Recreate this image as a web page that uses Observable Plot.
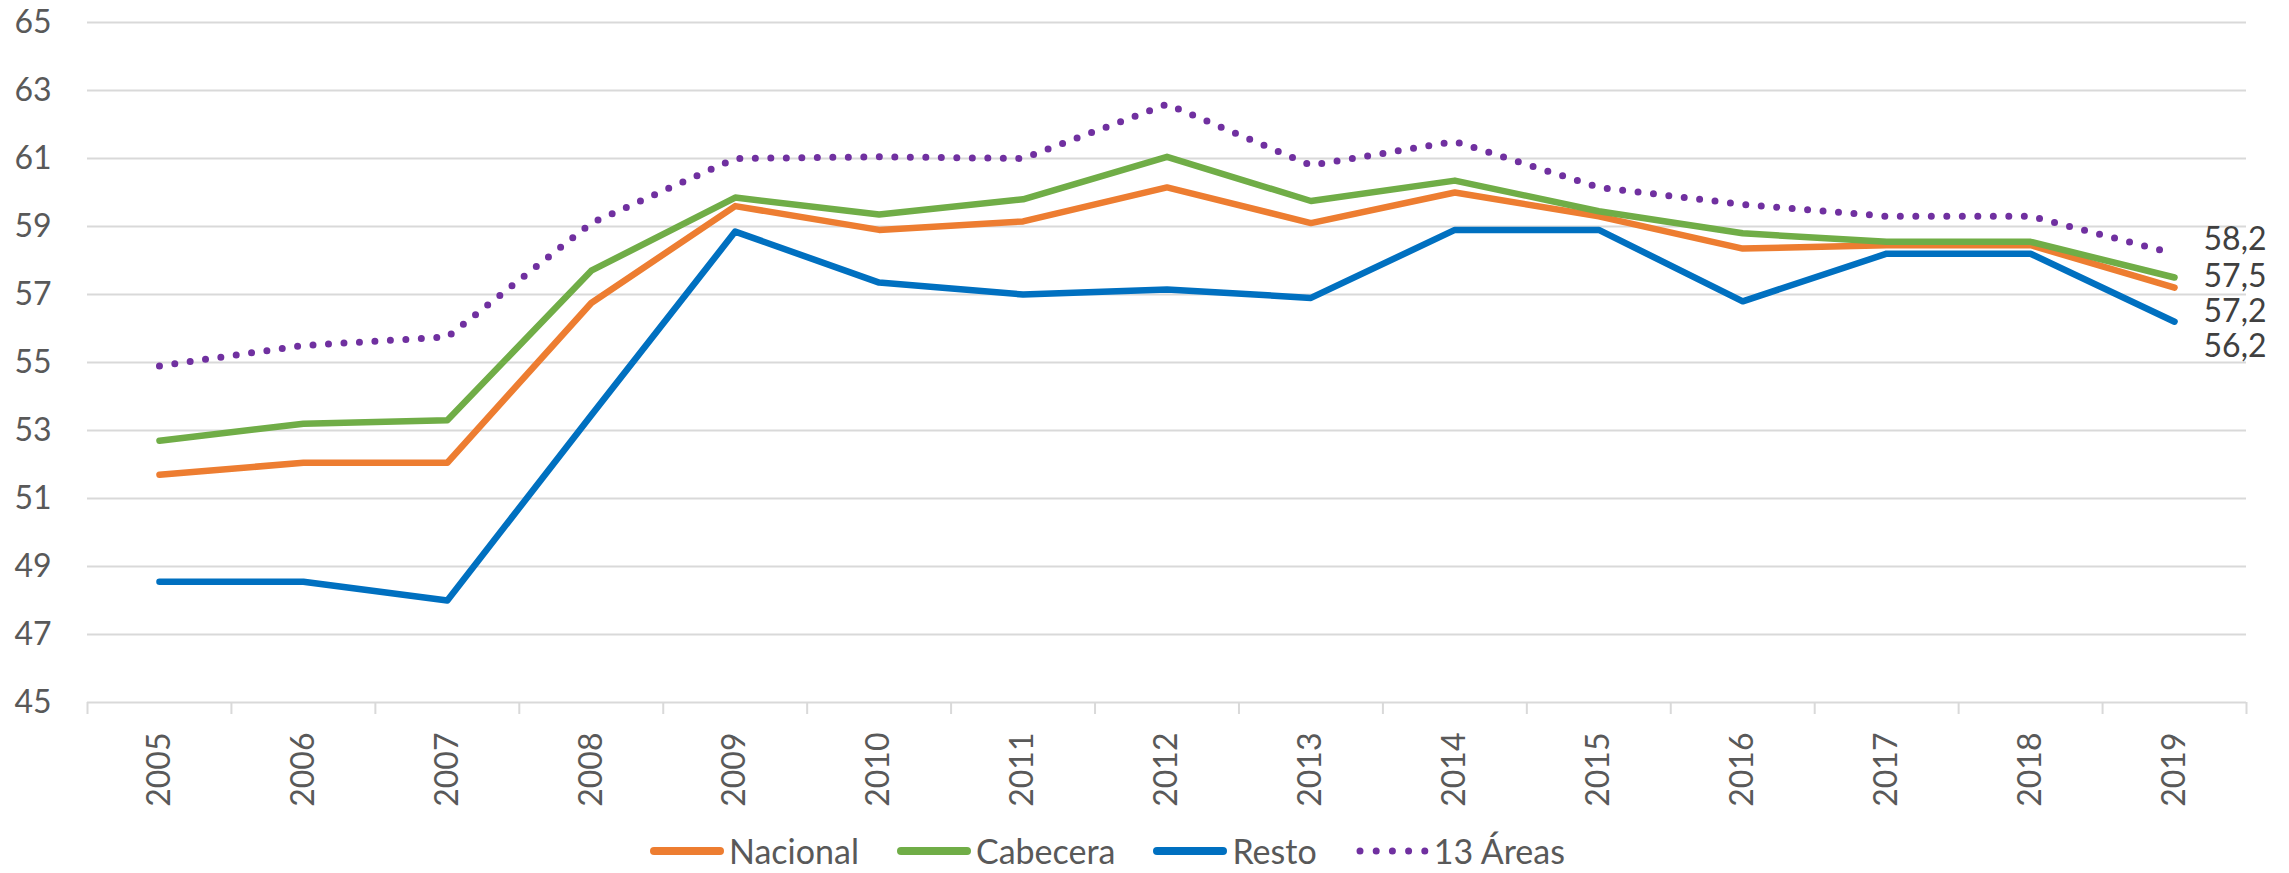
<!DOCTYPE html>
<html>
<head>
<meta charset="utf-8">
<script src="https://cdn.jsdelivr.net/npm/d3@7"></script>
<script src="https://cdn.jsdelivr.net/npm/@observablehq/plot@0.6"></script>
<style>
  body { margin: 0; background: #fff; font-family: Lato, "Open Sans", sans-serif; }
  #wrap { position: relative; width: 2289px; height: 873px; overflow: hidden; }
  #legend { position: absolute; left: 650px; top: 831px; height: 40px; line-height: 40px; display: flex; align-items: center;
            font-size: 34px; color: #595959; font-family: Lato, sans-serif; white-space: nowrap; }
  .item { display: flex; align-items: center; margin-right: 38px; }
  .item svg { margin-right: 5px; }
</style>
</head>
<body>
<div id="wrap"><div id="chart"></div><div id="legend"></div></div>
<script>
// ---- data ----
const years = [2005, 2006, 2007, 2008, 2009, 2010, 2011, 2012, 2013, 2014, 2015, 2016, 2017, 2018, 2019];
const seriesNames = ["Nacional", "Cabecera", "Resto", "13 Áreas"];
const nacional = [51.7, 52.05, 52.05, 56.75, 59.6, 58.9, 59.15, 60.15, 59.1, 60.0, 59.3, 58.35, 58.45, 58.45, 57.2];
const cabecera = [52.7, 53.2, 53.3, 57.7, 59.85, 59.35, 59.8, 61.05, 59.75, 60.35, 59.45, 58.8, 58.55, 58.55, 57.5];
const resto    = [48.55, 48.55, 48.0, 53.45, 58.85, 57.35, 57.0, 57.15, 56.9, 58.9, 58.9, 56.8, 58.2, 58.2, 56.2];
const areas13  = [54.9, 55.5, 55.75, 59.1, 61.0, 61.05, 61.0, 62.6, 60.8, 61.5, 60.15, 59.65, 59.3, 59.3, 58.2];
const yTicks = [45, 47, 49, 51, 53, 55, 57, 59, 61, 63, 65];

// ---- build ----
const seriesValues = [nacional, cabecera, resto, areas13];
const colors = ["#ED7D31", "#70AD47", "#0070C0", "#7030A0"];
// vertical nudges of the end labels (to avoid overlap), per series
const labelDy = [24, -1, 25, -14];
const data = seriesNames.flatMap((name, s) =>
  years.map((year, i) => ({series: name, year, value: seriesValues[s][i]})));
const boundaries = years.map(y => y - 0.5).concat([years[years.length - 1] + 0.5]);
const fmt = v => v.toFixed(1).replace(".", ",");
const lastYear = years[years.length - 1];

const lineMarks = seriesNames.map((name, s) => {
  const dotted = name === "13 Áreas";
  return Plot.lineY(data.filter(d => d.series === name), {
    x: "year", y: "value",
    stroke: colors[s],
    strokeWidth: dotted ? 7 : 6.5,
    strokeLinecap: "round",
    strokeLinejoin: "round",
    strokeDasharray: dotted ? "0 15.5" : null
  });
});

const labelMarks = seriesNames.map((name, s) =>
  Plot.text(data.filter(d => d.series === name && d.year === lastYear), {
    x: "year", y: "value", text: d => fmt(d.value),
    textAnchor: "start", dx: 29, dy: labelDy[s],
    fontSize: 32, fill: "#404040"
  }));

const chart = Plot.plot({
  width: 2289,
  height: 830,
  marginLeft: 87,
  marginRight: 43,
  marginTop: 22,
  marginBottom: 128,
  style: {fontFamily: "Lato, 'Open Sans', sans-serif", color: "#595959", background: "white", overflow: "visible"},
  x: {type: "linear", domain: [boundaries[0], boundaries[boundaries.length - 1]], label: null},
  y: {domain: [yTicks[0], yTicks[yTicks.length - 1]], label: null},
  marks: [
    Plot.gridY(yTicks, {stroke: "#d9d9d9", strokeOpacity: 1, strokeWidth: 2}),
    Plot.axisX(boundaries, {tickSize: 12, tickFormat: () => "", stroke: "#d9d9d9", strokeOpacity: 1, strokeWidth: 2, label: null}),
    Plot.axisX(years, {tickSize: 0, tickRotate: -90, tickPadding: 30, tickFormat: d => String(d), fontSize: 32, fill: "#595959", label: null}),
    Plot.axisY(yTicks, {tickSize: 0, tickPadding: 36, tickFormat: d => String(d), fontSize: 32, fill: "#595959", label: null}),
    ...lineMarks,
    ...labelMarks
  ]
});
document.getElementById("chart").appendChild(chart);

// ---- legend ----
const legend = document.getElementById("legend");
seriesNames.forEach((name, s) => {
  const item = document.createElement("div");
  item.className = "item";
  const dotted = name === "13 Áreas";
  const sw = dotted
    ? `<svg width="74" height="12"><line x1="5" y1="6" x2="70" y2="6" stroke="${colors[s]}" stroke-width="7" stroke-linecap="round" stroke-dasharray="0 16.2"/></svg>`
    : `<svg width="74" height="12"><line x1="4" y1="6" x2="70" y2="6" stroke="${colors[s]}" stroke-width="8" stroke-linecap="round"/></svg>`;
  item.innerHTML = sw + `<span>${name}</span>`;
  legend.appendChild(item);
});
</script>
</body>
</html>
